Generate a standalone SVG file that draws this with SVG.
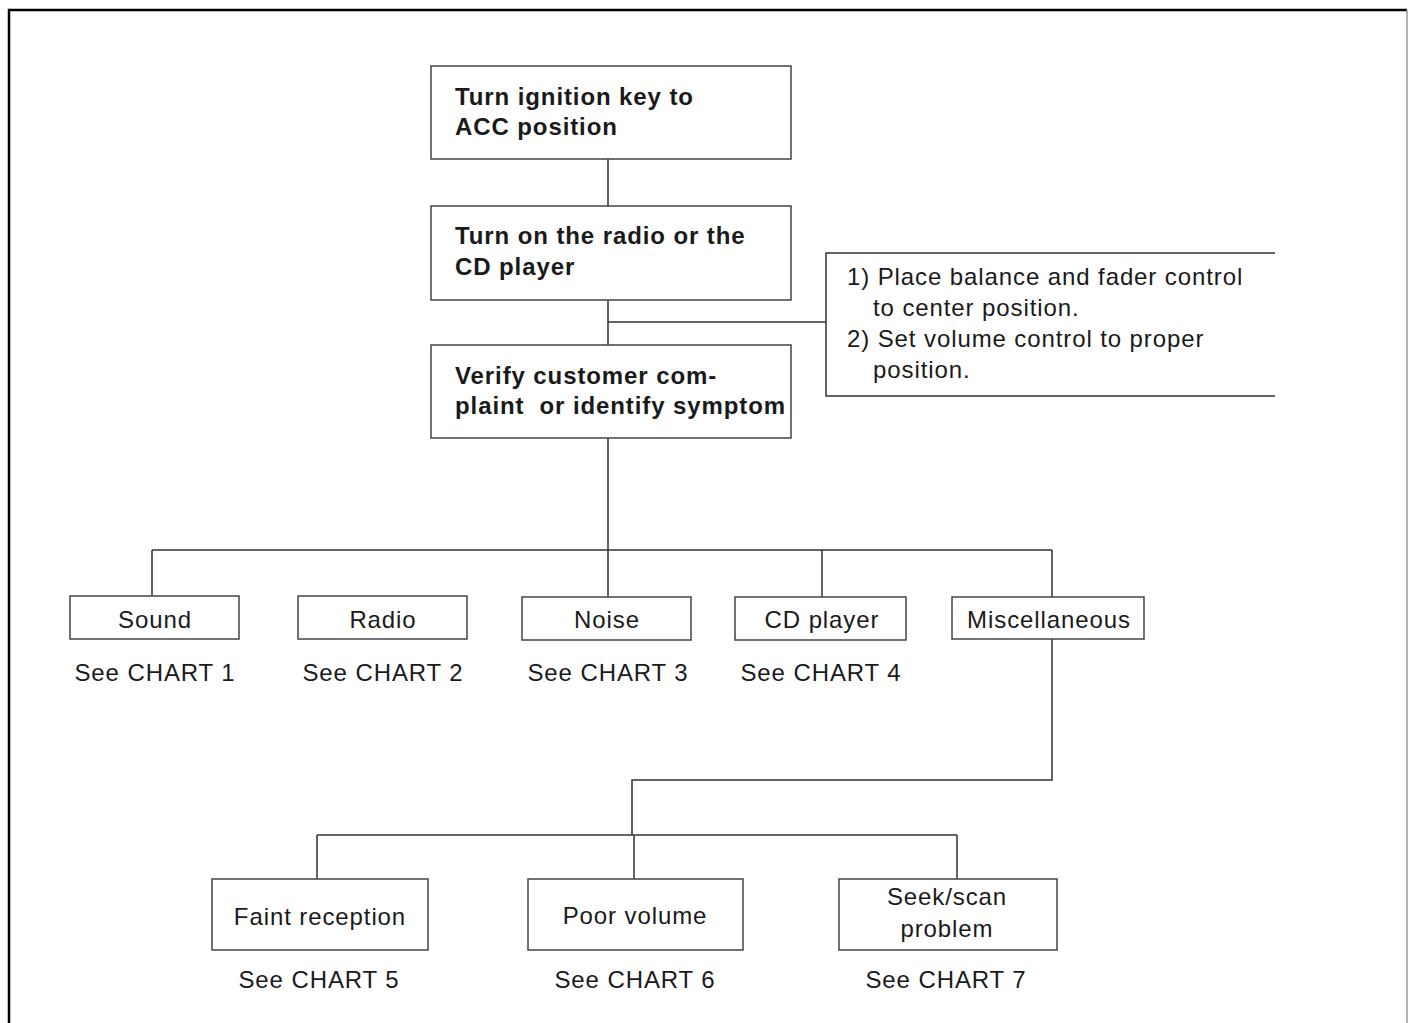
<svg xmlns="http://www.w3.org/2000/svg" width="1410" height="1023" viewBox="0 0 1410 1023">
<style>
.box{fill:#fff;stroke:#444;stroke-width:1.5}
.ln{fill:none;stroke:#333;stroke-width:1.5}
.b{font-family:"Liberation Sans",Arial,sans-serif;font-weight:bold;font-size:24px;letter-spacing:0.9px;fill:#1a1a1a}
.t{font-family:"Liberation Sans",Arial,sans-serif;font-size:24px;letter-spacing:0.9px;fill:#1a1a1a}
.c{text-anchor:middle}
</style>
<rect width="1410" height="1023" fill="#fff"/>
<path d="M9 1023 V10 H1407" fill="none" stroke="#000" stroke-width="2.5"/>
<path d="M1407 10 V1023" fill="none" stroke="#999" stroke-width="1.5"/>
<g id="connectors">
<path class="ln" d="M608 159 V206 M608 300 V345 M608 322 H826 M608 438 V550 M152 550 H1052 M152 550 V596 M608 550 V597 M822 550 V597 M1052 550 V597 M1052 639 V780 H632 V835 M317 835 H957 M317 835 V879 M634 835 V879 M957 835 V879"/>
</g>
<g id="n1"><rect class="box" x="431" y="66" width="360" height="93"/>
<text class="b" x="455" y="105">Turn ignition key to</text><text class="b" x="455" y="135">ACC position</text></g>
<g id="n2"><rect class="box" x="431" y="206" width="360" height="94"/>
<text class="b" x="455" y="244">Turn on the radio or the</text><text class="b" x="455" y="275">CD player</text></g>
<g id="n3"><rect class="box" x="431" y="345" width="360" height="93"/>
<text class="b" x="455" y="384">Verify customer com-</text><text class="b" x="455" y="414" xml:space="preserve">plaint  or identify symptom</text></g>
<g id="note"><path class="ln" d="M1275 253 H826 V396 H1275"/>
<text class="t" x="847" y="285">1) Place balance and fader control</text>
<text class="t" x="873" y="316">to center position.</text>
<text class="t" x="847" y="347">2) Set volume control to proper</text>
<text class="t" x="873" y="378">position.</text></g>
<g id="sound"><rect class="box" x="70" y="596" width="169" height="43"/><text class="t c" x="155" y="628">Sound</text><text class="t c" x="155" y="681">See CHART 1</text></g>
<g id="radio"><rect class="box" x="298" y="596" width="169" height="43"/><text class="t c" x="383" y="628">Radio</text><text class="t c" x="383" y="681">See CHART 2</text></g>
<g id="noise"><rect class="box" x="522" y="597" width="169" height="43"/><text class="t c" x="607" y="628">Noise</text><text class="t c" x="608" y="681">See CHART 3</text></g>
<g id="cd"><rect class="box" x="735" y="597" width="171" height="43"/><text class="t c" x="822" y="628">CD player</text><text class="t c" x="821" y="681">See CHART 4</text></g>
<g id="misc"><rect class="box" x="952" y="597" width="192" height="42"/><text class="t c" x="1049" y="628">Miscellaneous</text></g>
<g id="faint"><rect class="box" x="212" y="879" width="216" height="71"/><text class="t c" x="320" y="925">Faint reception</text><text class="t c" x="319" y="988">See CHART 5</text></g>
<g id="poor"><rect class="box" x="528" y="879" width="215" height="71"/><text class="t c" x="635" y="924">Poor volume</text><text class="t c" x="635" y="988">See CHART 6</text></g>
<g id="seek"><rect class="box" x="839" y="879" width="218" height="71"/><text class="t c" x="947" y="905">Seek/scan</text><text class="t c" x="947" y="937">problem</text><text class="t c" x="946" y="988">See CHART 7</text></g>
</svg>
